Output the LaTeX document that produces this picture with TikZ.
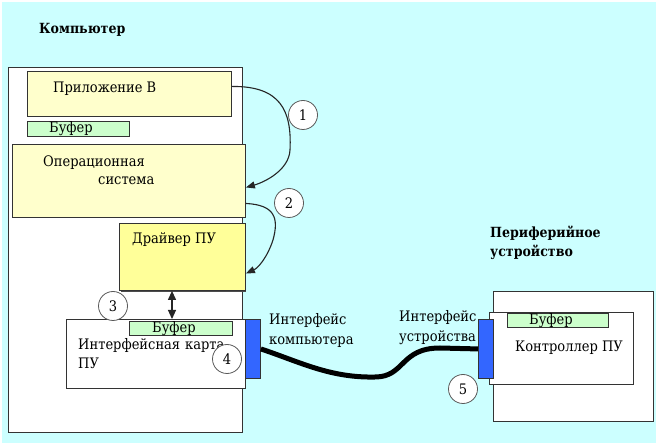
\documentclass[tikz,border=0pt]{standalone}
\usepackage{fontspec}
\newfontfamily\rmtext{DejaVu Serif Condensed}
\usetikzlibrary{arrows.meta,calc}
\definecolor{bgc}{HTML}{CCFFFF}
\definecolor{ylight}{HTML}{FFFFCC}
\definecolor{ydark}{HTML}{FFFF99}
\definecolor{gbuf}{HTML}{CCFFCC}
\definecolor{bport}{HTML}{3366FF}
\definecolor{edge}{HTML}{333333}
\tikzset{
  box/.style={draw=edge, line width=0.9pt, rectangle, anchor=north west, inner sep=0pt},
  lbl/.style={anchor=base west, inner sep=0pt, font=\rmtext\fontsize{14.5}{18}\selectfont},
  blbl/.style={anchor=base west, inner sep=0pt, font=\rmtext\fontsize{14}{18}\selectfont\bfseries},
  num/.style={circle, draw=black!65, fill=white, line width=0.8pt, minimum size=29pt, inner sep=0pt, font=\rmtext\fontsize{14.5}{18}\selectfont},
  flow/.style={draw=black!85, line width=1.1pt, -{Triangle[length=9pt,width=7pt]}},
  cable/.style={draw=black, line width=5pt}
}
\begin{document}
\begin{tikzpicture}[x=1pt,y=-1pt]
\useasboundingbox (0,0) rectangle (656,443);
\fill[white] (0,0) rectangle (656,443);
\fill[bgc] (2,2) rectangle (656,443);

% computer
\node[blbl] (tcomp) at (39,34) {Компьютер};
\node[box, fill=white, minimum width=234pt, minimum height=365pt] (comp) at (8,67) {};
\node[box, fill=ylight, minimum width=204pt, minimum height=45pt] (app) at (27,71) {};
\node[lbl] (tapp) at (53,93) {Приложение В};
\node[box, fill=gbuf, minimum width=102pt, minimum height=15pt] (buf1) at (27,121) {};
\node[lbl] (tbuf1) at (49,133) {Буфер};
\node[box, fill=ylight, minimum width=233pt, minimum height=73pt] (os) at (12,144) {};
\node[lbl] (tos1) at (43,167) {Операционная};
\node[lbl] (tos2) at (98,185) {система};
\draw[black!70, line width=1.2pt] (121,291.5) -- (246,291.5);
\node[box, fill=ydark, minimum width=126pt, minimum height=67pt] (drv) at (119,223) {};
\node[lbl] (tdrv) at (132,244) {Драйвер ПУ};
\node[box, fill=white, minimum width=179pt, minimum height=69pt] (card) at (66,319) {};
\node[box, fill=gbuf, minimum width=103pt, minimum height=14pt] (buf2) at (129,321) {};
\node[lbl] (tbuf2) at (152,333) {Буфер};
\node[lbl] (tcard1) at (78,350) {Интерфейсная};
\node[lbl] (tcard1b) at (185,350) {карта};
\node[lbl] (tcard2) at (78,369) {ПУ};
\node[box, fill=bport, minimum width=15pt, minimum height=59pt] (ifc) at (245,319) {};
\node[lbl] (tifc1) at (269,325) {Интерфейс};
\node[lbl] (tifc2) at (269,345) {компьютера};

% peripheral
\node[blbl] (tper1) at (490,238) {Периферийное};
\node[blbl] (tper2) at (490,257) {устройство};
\node[box, fill=white, minimum width=160pt, minimum height=130pt] (per) at (493,291) {};
\node[box, fill=white, minimum width=144pt, minimum height=72pt] (ctrl) at (489,312) {};
\node[box, fill=gbuf, minimum width=101pt, minimum height=14pt] (buf3) at (507,313) {};
\node[lbl] (tbuf3) at (529,325) {Буфер};
\node[lbl] (tctrl) at (515,352) {Контроллер ПУ};
\node[box, fill=bport, minimum width=15pt, minimum height=59pt] (ifd) at (478,319) {};
\node[lbl] (tifd1) at (399,322) {Интерфейс};
\node[lbl] (tifd2) at (399,342) {устройства};

% cable
\draw[cable] (ifc.east) .. controls (300,362) and (330,378) .. (375,377)
  .. controls (405,377) and (400,348) .. (440,348) -- (ifd.west);

% flow arrows
\draw[flow] ($(app.east)+(0,-7.5)$) .. controls (280,86) and (292,110) .. (290,150)
  .. controls (289,170) and (265,182) .. ($(os.east)+(0,6.5)$);
\draw[flow] ($(os.east)+(0,22.5)$) .. controls (275,205) and (279,218) .. (273,240)
  .. controls (267,258) and (258,268) .. ($(drv.east)+(0,16.5)$);
\coordinate (da) at ($(drv.south west)+(53,0)$);
\coordinate (db) at ($(card.north west)+(106,0)$);
\draw[black!85, line width=1.1pt, {Triangle[length=9pt,width=8pt]}-{Triangle[length=9pt,width=8pt]}] (da) -- (db);

% numbers
\node[num] (n1) at (303,115) {1};
\node[num] (n2) at (289,203) {2};
\node[num] (n3) at (113,306) {3};
\node[num] (n4) at (227,359) {4};
\node[num] (n5) at (463,389) {5};
\end{tikzpicture}
\end{document}
